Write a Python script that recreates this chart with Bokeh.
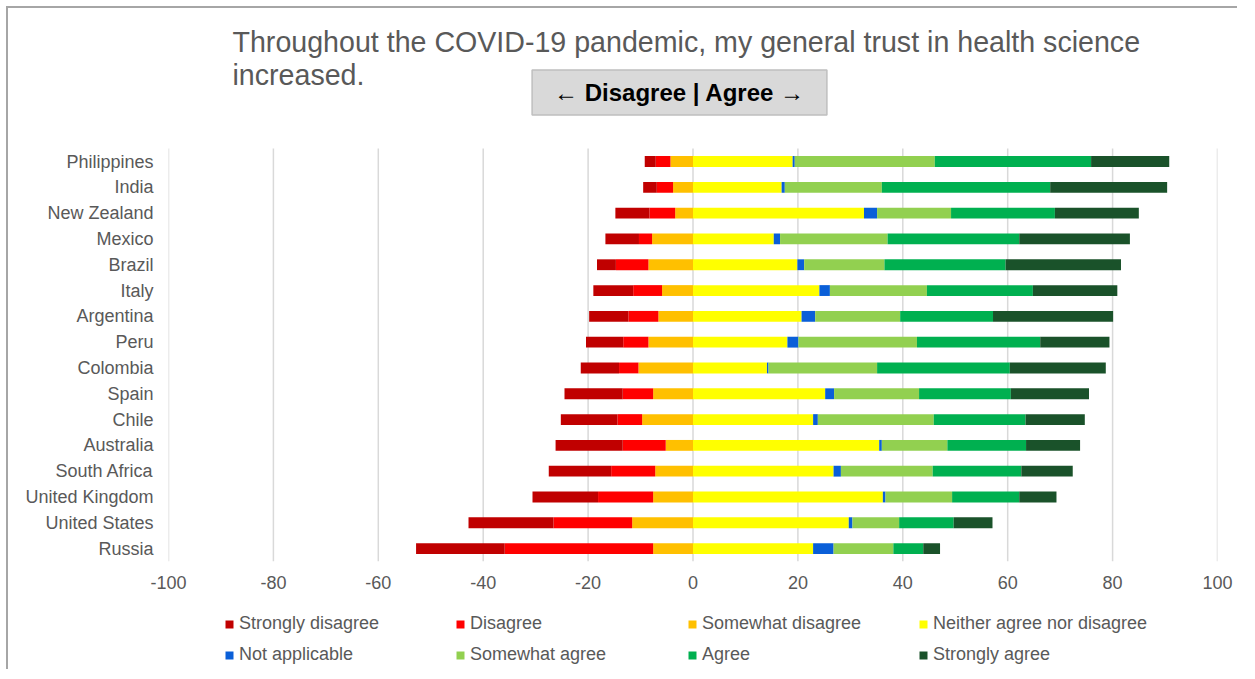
from bokeh.plotting import figure
from bokeh.layouts import column
from bokeh.models import (ColumnDataSource, Range1d, FixedTicker,
                          Legend, LegendItem, Label)
from bokeh.embed import file_html
from bokeh.resources import INLINE

# ---------------- data ----------------
countries = ["Philippines", "India", "New Zealand", "Mexico", "Brazil", "Italy",
             "Argentina", "Peru", "Colombia", "Spain", "Chile", "Australia",
             "South Africa", "United Kingdom", "United States", "Russia"]

strongly_disagree = [2.1, 2.6, 6.5, 6.4, 3.6, 7.6, 7.5, 7.1, 7.3, 11.1, 10.8, 12.8, 11.9, 12.5, 16.2, 16.9]
disagree          = [2.8, 3.1, 4.9, 2.5, 6.2, 5.5, 5.7, 4.8, 3.7, 5.8, 4.7, 8.2, 8.4, 10.5, 15.0, 28.3]
somewhat_disagree = [4.3, 3.8, 3.4, 7.8, 8.5, 5.9, 6.6, 8.5, 10.4, 7.6, 9.7, 5.2, 7.2, 7.6, 11.6, 7.6]
neither           = [19.0, 16.9, 32.6, 15.4, 19.9, 24.1, 20.7, 18.0, 14.1, 25.2, 22.9, 35.5, 26.8, 36.2, 29.7, 22.9]
not_applicable    = [0.4, 0.6, 2.5, 1.2, 1.3, 2.0, 2.6, 2.1, 0.3, 1.7, 0.9, 0.5, 1.4, 0.5, 0.7, 3.9]
somewhat_agree    = [26.7, 18.5, 14.1, 20.5, 15.3, 18.5, 16.2, 22.6, 20.7, 16.2, 22.1, 12.5, 17.5, 12.7, 8.9, 11.4]
agree             = [29.8, 32.1, 19.8, 25.1, 23.1, 20.2, 17.7, 23.5, 25.3, 17.5, 17.5, 15.0, 16.9, 12.8, 10.4, 5.7]
strongly_agree    = [14.9, 22.3, 16.0, 21.1, 22.0, 16.1, 22.9, 13.2, 18.3, 14.9, 11.3, 10.3, 9.8, 7.1, 7.4, 3.2]

x_ticks = [-100, -80, -60, -40, -20, 0, 20, 40, 60, 80, 100]

title_line1 = "Throughout the COVID-19 pandemic, my general trust in health science"
title_line2 = "increased."
box_text = "\u2190 Disagree | Agree \u2192"

neg_names = ["Somewhat disagree", "Disagree", "Strongly disagree"]
neg_colors = ["#FFC000", "#FF0000", "#C00000"]
pos_names = ["Neither agree nor disagree", "Not applicable", "Somewhat agree", "Agree", "Strongly agree"]
pos_colors = ["#FFFF00", "#0A5FD8", "#92D050", "#00B050", "#1A522A"]

legend_order = ["Strongly disagree", "Disagree", "Somewhat disagree", "Neither agree nor disagree",
                "Not applicable", "Somewhat agree", "Agree", "Strongly agree"]

# ---------------- source ----------------
n_rows = len(countries)
ypos = [n_rows - 1 - i for i in range(n_rows)]          # Philippines on top
source = ColumnDataSource(dict(
    y=ypos, country=countries,
    swd=[-v for v in somewhat_disagree],
    d=[-v for v in disagree],
    sd=[-v for v in strongly_disagree],
    n=neither, na=not_applicable, swa=somewhat_agree, a=agree, sa=strongly_agree,
))

FONT = "Liberation Sans"
GRAY = "#595959"

# ---------------- main chart ----------------
p = figure(width=1231, height=586, output_backend="svg", toolbar_location=None,
           x_range=Range1d(-100, 100), y_range=Range1d(-0.5, n_rows - 1 + 5.93),
           min_border_left=160, min_border_right=22, min_border_top=0, min_border_bottom=33)
p.outline_line_color = None
p.background_fill_color = "white"
p.border_fill_color = "white"
p.xgrid.grid_line_color = None
p.ygrid.grid_line_color = None

# vertical gridlines only over the bar area
p.segment(x0=x_ticks, x1=x_ticks, y0=[-0.5] * len(x_ticks), y1=[n_rows - 0.5] * len(x_ticks),
          line_color="#D9D9D9", line_width=1.5)

bh = 0.42
neg_r = p.hbar_stack(["swd", "d", "sd"], y="y", height=bh, color=neg_colors,
                     source=source, line_color=None)
pos_r = p.hbar_stack(["n", "na", "swa", "a", "sa"], y="y", height=bh, color=pos_colors,
                     source=source, line_color=None)

p.xaxis.ticker = FixedTicker(ticks=x_ticks)
p.xaxis.major_label_overrides = {t: str(t) for t in x_ticks}
p.yaxis.ticker = FixedTicker(ticks=ypos)
p.yaxis.major_label_overrides = {yv: c for yv, c in zip(ypos, countries)}
for ax in (p.xaxis[0], p.yaxis[0]):
    ax.axis_line_color = None
    ax.major_tick_line_color = None
    ax.minor_tick_line_color = None
    ax.major_label_text_font = FONT
    ax.major_label_text_font_size = "18px"
    ax.major_label_text_color = GRAY
p.xaxis.major_label_standoff = 8
p.yaxis.major_label_standoff = 9

# title (screen units: from frame left / frame bottom)
p.add_layout(Label(x=64, y=520, x_units="screen", y_units="screen", text=title_line1,
                   text_font=FONT, text_font_size="28.6px", text_color=GRAY,
                   text_baseline="middle"))
p.add_layout(Label(x=64, y=487, x_units="screen", y_units="screen", text=title_line2,
                   text_font=FONT, text_font_size="28.6px", text_color=GRAY,
                   text_baseline="middle"))
p.add_layout(Label(x=511, y=469, x_units="screen", y_units="screen", text=box_text,
                   text_font=FONT, text_font_size="24px", text_font_style="bold",
                   text_color="black", text_align="center", text_baseline="middle",
                   background_fill_color="#D9D9D9", border_line_color="#BFBFBF",
                   border_line_width=1.5, padding=(22, 22, 9, 9)))

# ---------------- legend strip ----------------
colors = dict(zip(neg_names, neg_colors))
colors.update(dict(zip(pos_names, pos_colors)))

lg = figure(width=1231, height=77, output_backend="svg", toolbar_location=None,
            x_range=Range1d(0, 1), y_range=Range1d(0, 1),
            min_border_left=0, min_border_right=0, min_border_top=0, min_border_bottom=0)
lg.axis.visible = False
lg.grid.visible = False
lg.outline_line_color = None
lg.border_fill_color = "white"

nan = float("nan")
col_x = [51, 282, 514, 745]     # from the (aligned) frame's left edge
row_y = [37, 6]
for k, name in enumerate(legend_order):
    proxy = lg.scatter(x=[nan], y=[nan], marker="square", size=8,
                       fill_color=colors[name], line_color=None)
    leg = Legend(items=[LegendItem(label=name, renderers=[proxy])],
                 location=(col_x[k % 4], row_y[k // 4]), padding=0, margin=0, spacing=0,
                 glyph_width=20, glyph_height=20, label_standoff=-3,
                 label_text_font=FONT, label_text_font_size="18px",
                 label_text_color=GRAY, border_line_color=None,
                 background_fill_alpha=0)
    lg.add_layout(leg)

layout = column(p, lg, spacing=0,
                styles={"margin": "8px 0px 0px 8px",
                        "box-shadow": "-2px -2px 0px 0px #A6A6A6"})

open("out.html", "w").write(file_html(layout, INLINE))
